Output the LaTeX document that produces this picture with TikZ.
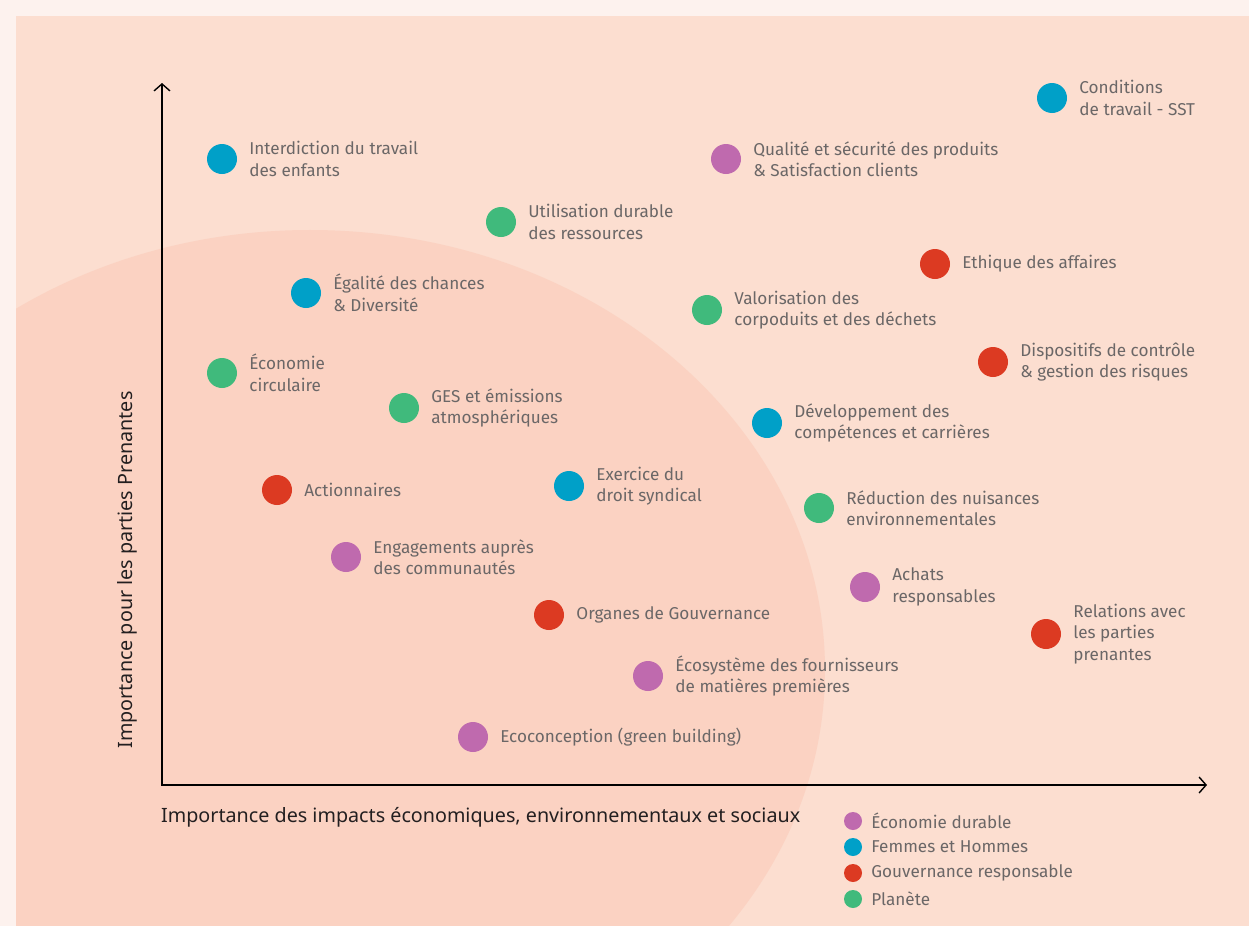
\documentclass[tikz,border=0pt]{standalone}
\usepackage{fontspec}
\setmainfont{Fira Sans}
\newfontfamily\axisfont{Noto Sans}
\usetikzlibrary{positioning,arrows.meta}
\definecolor{margin}{HTML}{FDF2EE}
\definecolor{panel}{HTML}{FCDED0}
\definecolor{blob}{HTML}{FBD2C2}
\definecolor{eco}{HTML}{BF6AAE}
\definecolor{femmes}{HTML}{00A0C8}
\definecolor{gouv}{HTML}{DC3A22}
\definecolor{planete}{HTML}{40BA7C}
\definecolor{labelgrey}{HTML}{6B6767}
\definecolor{axisgrey}{HTML}{231F20}
\tikzset{
	dot/.style={circle,fill=#1,minimum size=30bp,inner sep=0pt},
	key/.style={circle,fill=#1,minimum size=18bp,inner sep=0pt},
	lbl/.style={text=labelgrey,font=\fontsize{17.2}{21.5}\selectfont,align=left,inner sep=0pt},
	axislbl/.style={text=axisgrey,font=\axisfont\fontsize{19.8}{23}\selectfont,inner sep=0pt},
}
\begin{document}
\begin{tikzpicture}[x=1bp,y=-1bp]
				% background
				\fill[margin] (0,0) rectangle (1249,926);
				\fill[panel] (16,16) rectangle (1249,926);
				\begin{scope}
					\clip (16,16) rectangle (1249,926);
					\fill[blob] (310,670) ellipse [x radius=515bp, y radius=440bp];
				\end{scope}
				\useasboundingbox (0,0) rectangle (1249,926);
				
				% axes
				\coordinate (O) at (162,785);
				\coordinate (ytop) at (162,83);
				\coordinate (xend) at (1207,785);
				\draw[line width=1.4bp, {Straight Barb[length=7bp,width=16bp]}-{Straight Barb[length=7bp,width=16bp]}] (ytop) -- (O) -- (xend);
				\node[axislbl, anchor=west] (xtitle) at (161,817) {Importance des impacts économiques, environnementaux et sociaux};
				\node[axislbl, rotate=90] (ytitle) at (127,570) {Importance pour les parties Prenantes};
				
				% enjeux
				\foreach \n/\x/\y/\c/\t in {
					1/222/159/femmes/{Interdiction du travail\\des enfants},
					2/726/159/eco/{Qualité et sécurité des produits\\\& Satisfaction clients},
					3/1052/98/femmes/{Conditions\\de travail - SST},
					4/501/222/planete/{Utilisation durable\\des ressources},
					5/935/264/gouv/{Ethique des affaires},
					6/306/293/femmes/{Égalité des chances\\\& Diversité},
					7/707/310/planete/{Valorisation des\\corpoduits et des déchets},
					8/993/362/gouv/{Dispositifs de contrôle\\\& gestion des risques},
					9/222/373/planete/{Économie\\circulaire},
					10/404/408/planete/{GES et émissions\\atmosphériques},
					11/767/423/femmes/{Développement des\\compétences et carrières},
					12/277/490/gouv/{Actionnaires},
					13/569/486/femmes/{Exercice du\\droit syndical},
					14/819/508/planete/{Réduction des nuisances\\environnementales},
					15/346/557/eco/{Engagements auprès\\des communautés},
					16/865/587/eco/{Achats\\responsables},
					17/549/615/gouv/{Organes de Gouvernance},
					18/1046/634/gouv/{Relations avec\\les parties\\prenantes},
					19/648/676/eco/{Écosystème des fournisseurs\\de matières premières},
					20/473/737/eco/{Ecoconception (green building)}}{
					\node[dot=\c] (d\n) at (\x,\y) {};
					\node[lbl, right=12bp of d\n] (l\n) {\t};
				}
				
				% legend
				\foreach \n/\y/\c/\t in {1/821/eco/{Économie durable}, 2/847/femmes/{Femmes et Hommes}, 3/873/gouv/{Gouvernance responsable}, 4/899/planete/{Planète}}{
					\node[key=\c] (k\n) at (853,\y) {};
					\node[lbl, right=9bp of k\n] (kl\n) {\t};
				}
\end{tikzpicture}
\end{document}
